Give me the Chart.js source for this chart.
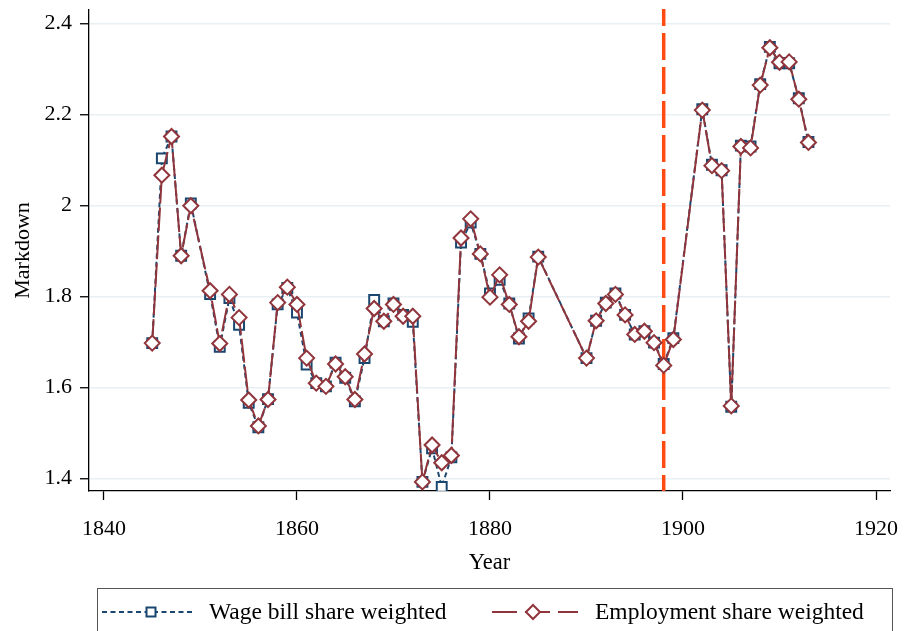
<!DOCTYPE html>
<html><head><meta charset="utf-8">
<script src="https://cdn.jsdelivr.net/npm/chart.js@4/dist/chart.umd.min.js"></script>
<style>html,body{margin:0;padding:0;background:#fff;}#wrap{width:906px;height:631px;}</style>
</head><body><div id="wrap"><canvas id="c" width="906" height="631"></canvas></div>
<script>
const years = [1845,1846,1847,1848,1849,1851,1852,1853,1854,1855,1856,1857,1858,1859,1860,1861,1862,1863,1864,1865,1866,1867,1868,1869,1870,1871,1872,1873,1874,1875,1876,1877,1878,1879,1880,1881,1882,1883,1884,1885,1890,1891,1892,1893,1894,1895,1896,1897,1898,1899,1902,1903,1904,1905,1906,1907,1908,1909,1910,1911,1912,1913];
const wageBill = [1.698,2.104,2.152,1.890,2.005,1.806,1.690,1.797,1.738,1.567,1.513,1.575,1.783,1.819,1.765,1.651,1.610,1.603,1.655,1.622,1.570,1.665,1.793,1.746,1.785,1.760,1.745,1.393,1.467,1.382,1.447,1.919,1.963,1.894,1.807,1.837,1.785,1.708,1.752,1.888,1.665,1.747,1.787,1.807,1.760,1.717,1.724,1.699,1.652,1.709,2.212,2.090,2.078,1.558,2.132,2.130,2.267,2.349,2.313,2.313,2.236,2.140];
const employment = [1.698,2.067,2.152,1.890,2.000,1.813,1.697,1.805,1.754,1.573,1.516,1.574,1.787,1.821,1.783,1.665,1.610,1.603,1.652,1.624,1.574,1.674,1.774,1.746,1.783,1.757,1.757,1.393,1.474,1.435,1.451,1.929,1.971,1.894,1.799,1.848,1.783,1.712,1.746,1.887,1.665,1.747,1.785,1.805,1.760,1.717,1.724,1.699,1.649,1.706,2.210,2.088,2.077,1.560,2.130,2.127,2.265,2.347,2.315,2.316,2.234,2.139];
const xTicks = [1840,1860,1880,1900,1920];
const yTicks = [1.4,1.6,1.8,2.0,2.2,2.4];
const markerYear = 1898;
const seriesNames = ['Wage bill share weighted','Employment share weighted'];
const xTitle = 'Year';
const yTitle = 'Markdown';

const BLUE = '#1a476f', RED = '#90353b', ORANGE = '#ff4a12';
const FONT = "'Liberation Serif', 'Times New Roman', serif";

const vlinePlugin = {
  id: 'vline',
  beforeDatasetsDraw(chart) {
    const {ctx, chartArea, scales} = chart;
    const x = scales.x.getPixelForValue(markerYear);
    ctx.save();
    ctx.strokeStyle = ORANGE;
    ctx.lineWidth = 3.5;
    ctx.setLineDash([27, 7]);
    ctx.lineDashOffset = 10;
    ctx.beginPath();
    ctx.moveTo(x, chartArea.top - 1);
    ctx.lineTo(x, chartArea.bottom);
    ctx.stroke();
    ctx.restore();
  }
};

const legendPlugin = {
  id: 'customLegend',
  afterDraw(chart) {
    const ctx = chart.ctx;
    ctx.save();
    ctx.strokeStyle = '#555';
    ctx.lineWidth = 1;
    ctx.setLineDash([]);
    ctx.strokeRect(97.5, 588.5, 795, 45);
    const cy = 612;
    ctx.strokeStyle = BLUE; ctx.lineWidth = 2; ctx.setLineDash([5,3.5]);
    ctx.beginPath(); ctx.moveTo(102, cy); ctx.lineTo(192, cy); ctx.stroke();
    ctx.setLineDash([]);
    ctx.fillStyle = '#fff';
    ctx.fillRect(146.5, cy-4.5, 9, 9);
    ctx.strokeRect(146.5, cy-4.5, 9, 9);
    ctx.strokeStyle = RED; ctx.lineWidth = 2; ctx.setLineDash([25,8]);
    ctx.beginPath(); ctx.moveTo(492, cy); ctx.lineTo(578, cy); ctx.stroke();
    ctx.setLineDash([]);
    ctx.beginPath();
    ctx.moveTo(526, cy); ctx.lineTo(533, cy-7); ctx.lineTo(540, cy); ctx.lineTo(533, cy+7); ctx.closePath();
    ctx.fillStyle = '#fff'; ctx.fill(); ctx.stroke();
    ctx.fillStyle = '#000';
    ctx.font = "23.5px " + FONT;
    ctx.textBaseline = 'middle';
    ctx.textAlign = 'left';
    ctx.fillText(seriesNames[0], 209, cy + 1);
    ctx.fillText(seriesNames[1], 595, cy + 1);
    ctx.restore();
  }
};

const toPts = arr => years.map((y, i) => ({x: y, y: arr[i]}));

new Chart(document.getElementById('c'), {
  type: 'line',
  data: {
    datasets: [
      {
        label: seriesNames[0], data: toPts(wageBill),
        borderColor: BLUE, borderWidth: 2, borderDash: [5, 3.5],
        pointStyle: 'rect', pointRadius: 7, pointBorderWidth: 2,
        pointBorderColor: BLUE, pointBackgroundColor: '#fff',
        order: 2, tension: 0
      },
      {
        label: seriesNames[1], data: toPts(employment),
        borderColor: RED, borderWidth: 2, borderDash: [24, 4],
        pointStyle: 'rectRot', pointRadius: 7.5, pointBorderWidth: 2,
        pointBorderColor: RED, pointBackgroundColor: '#fff',
        order: 1, tension: 0
      }
    ]
  },
  options: {
    responsive: false,
    animation: false,
    devicePixelRatio: 1,
    layout: {padding: {left: 0, right: 16, top: 10, bottom: 50}},
    plugins: {legend: {display: false}, tooltip: {enabled: false}},
    scales: {
      x: {
        type: 'linear', min: 1838.45, max: 1921.45,
        afterBuildTicks: s => { s.ticks = xTicks.map(v => ({value: v})); },
        afterFit: s => { s.height = 90; s.paddingLeft = 0; s.paddingRight = 0; },
        grid: {drawOnChartArea: false, drawTicks: true, tickLength: 9, tickColor: '#000', tickWidth: 1.3},
        border: {display: true, color: '#000', width: 1.3},
        ticks: {color: '#000', font: {family: FONT, size: 22}, padding: 16, maxRotation: 0,
                callback: v => String(v)},
        title: {display: true, text: xTitle, color: '#000', font: {family: FONT, size: 22.5}, padding: {top: 0, bottom: 4}}
      },
      y: {
        type: 'linear', min: 1.373, max: 2.43,
        afterBuildTicks: s => { s.ticks = yTicks.map(v => ({value: v})); },
        afterFit: s => { s.width = 89; s.paddingTop = 0; s.paddingBottom = 0; },
        grid: {color: '#e9f0f3', lineWidth: 1.5, drawTicks: true, tickLength: 9, tickColor: '#000', tickWidth: 1.3},
        border: {display: true, color: '#000', width: 1.3},
        ticks: {color: '#000', font: {family: FONT, size: 22}, padding: 8,
                callback: v => String(Number(v.toFixed(1)))},
        title: {display: true, text: yTitle, color: '#000', font: {family: FONT, size: 22}, padding: {top: 10, bottom: 0}}
      }
    }
  },
  plugins: [vlinePlugin, legendPlugin]
});
</script>
</body></html>
